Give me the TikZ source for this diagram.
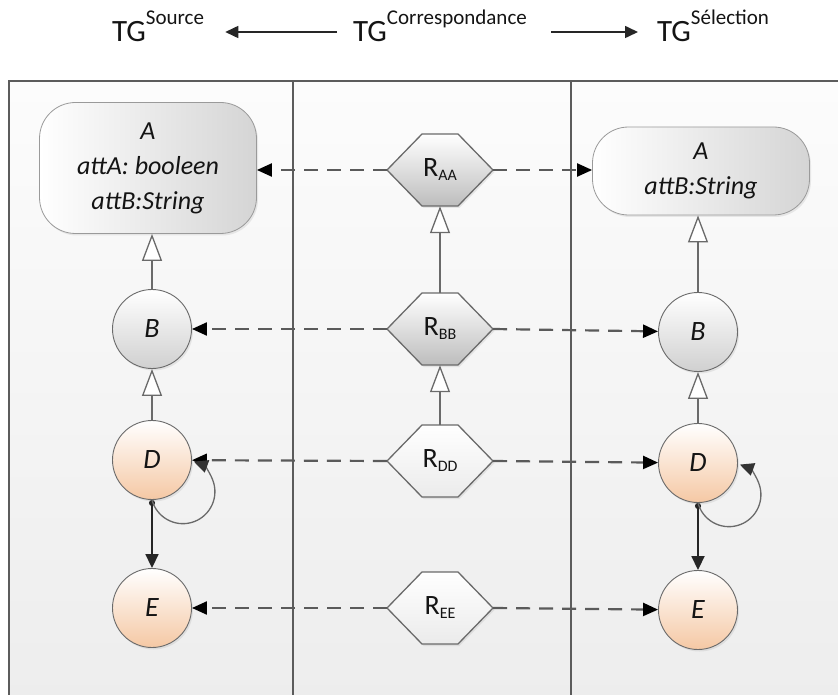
\documentclass[tikz,border=0pt]{standalone}
\usepackage{fontspec}
\setmainfont{Carlito}
\usetikzlibrary{arrows.meta,shadows}
\definecolor{frameC}{HTML}{5C5C5C}
\definecolor{shapeC}{HTML}{6A6A6A}
\definecolor{boxC}{HTML}{9A9A9A}
\definecolor{dashC}{HTML}{5A5A5A}
\definecolor{peach}{HTML}{F5C8A4}
\definecolor{greyB}{HTML}{D0D0D0}
\definecolor{greyH}{HTML}{BDBDBD}
\definecolor{paleH}{HTML}{EBEBEB}
\definecolor{txtC}{HTML}{141414}
\definecolor{bgTop}{HTML}{FCFCFC}
\definecolor{bgBot}{HTML}{EDEDED}
\newcommand\hdrTG[1]{{\fontsize{31}{31}\selectfont TG}\raisebox{17pt}{\fontsize{21}{21}\selectfont #1}}
\newcommand\hexpath[3]{\path[hexfill, bottom color=#3] (#1-53,#2) -- (#1-18,#2-36) -- (#1+18,#2-36) -- (#1+53,#2) -- (#1+18,#2+36) -- (#1-18,#2+36) -- cycle;}
\newcommand\Rlab[1]{R\raisebox{-4pt}{\fontsize{16}{16}\selectfont #1}}
\begin{document}
\begin{tikzpicture}[x=1pt,y=-1pt,
  frameline/.style={draw=frameC, line width=1.4pt},
  hdr/.style={inner sep=0pt, text=txtC},
  harrow/.style={draw=black!85, line width=1.6pt, -{Triangle[length=13pt,width=12pt]}},
  shad/.style={drop shadow={opacity=0.15, shadow xshift=1.5pt, shadow yshift=-2pt}},
  boxA/.style={rectangle, rounded corners=36pt, draw=boxC, line width=0.8pt, left color=white, right color=greyB!90, minimum width=217pt, align=center, text=txtC, font=\fontsize{26}{35}\selectfont\itshape, shad},
  circ/.style={circle, draw=shapeC, line width=0.9pt, minimum size=79pt, inner sep=0pt, text=txtC, font=\fontsize{28}{28}\selectfont\itshape, top color=white, shad},
  circG/.style={circ, bottom color=greyB},
  circP/.style={circ, bottom color=peach},
  hexfill/.style={draw=shapeC, line width=1.3pt, top color=white, shad},
  hexnode/.style={rectangle, minimum width=106pt, minimum height=72pt, inner sep=0pt, text=txtC, font=\fontsize{28}{28}\selectfont},
  gen/.style={draw=shapeC, line width=1.3pt, -{Triangle[length=27pt,width=20pt,fill=white]}},
  dsh/.style={draw=dashC, line width=2.2pt, dash pattern=on 14pt off 9pt, -{Triangle[length=15pt,width=13pt,color=black]}},
  solidarr/.style={draw=black!85, line width=1.8pt, {Circle[length=6pt]}-{Triangle[length=14pt,width=13pt]}},
  loopline/.style={draw=shapeC, line width=1.3pt, -{Triangle[length=14pt,width=13pt,color=black!80]}}
]
\useasboundingbox (0,0) rectangle (838,695);
\clip (0,0) rectangle (838,695);
% columns
\shade[top color=bgTop, bottom color=bgBot] (9,81) rectangle (850,705);
\draw[frameline] (850,81) -- (9,81) -- (9,705);
\draw[frameline] (293,81) -- (293,705);
\draw[frameline] (571,81) -- (571,705);
% header
\node[hdr, anchor=base west] (hsrc) at (112,42) {\hdrTG{Source}};
\node[hdr, anchor=base west] (hcor) at (353,42) {\hdrTG{Correspondance}};
\node[hdr, anchor=base west] (hsel) at (657,42) {\hdrTG{Sélection}};
\coordinate (hy) at (0,32);
\draw[harrow, shorten <=16pt, shorten >=21pt] (hcor.west |- hy) -- (hsrc.east |- hy);
\draw[harrow, shorten <=24pt, shorten >=19pt] (hcor.east |- hy) -- (hsel.west |- hy);
% source column
\node[boxA, minimum height=131pt] (srcA) at (148,168) {A\\attA: booleen\\attB:String};
\node[circG] (srcB) at (152,329) {B};
\node[circP] (srcD) at (152,460) {D};
\node[circP] (srcE) at (152,608) {E};
% selection column
\node[boxA, minimum height=88pt] (selA) at (701,171) {A\\attB:String};
\node[circG] (selB) at (698,332) {B};
\node[circP] (selD) at (698,463) {D};
\node[circP] (selE) at (698,610) {E};
% correspondence column
\hexpath{440}{170}{greyH}
\node[hexnode] (raa) at (440,170) {\Rlab{AA}};
\hexpath{440}{329}{greyH}
\node[hexnode] (rbb) at (440,329) {\Rlab{BB}};
\hexpath{440}{461}{paleH}
\node[hexnode] (rdd) at (440,461) {\Rlab{DD}};
\hexpath{440}{608}{paleH}
\node[hexnode] (ree) at (440,608) {\Rlab{EE}};
% generalisations
\draw[gen] (srcB.north) -- (srcB.north |- srcA.south);
\draw[gen] (srcD.north) -- (srcB.south);
\draw[gen] (rbb.north) -- (raa.south);
\draw[gen] (rdd.north) -- (rbb.south);
\draw[gen] (selB.north) -- (selB.north |- selA.south);
\draw[gen] (selD.north) -- (selB.south);
% correspondences
\draw[dsh] (raa.west) -- (raa.west -| srcA.east);
\draw[dsh] (raa.east) -- (raa.east -| selA.west);
\draw[dsh] (rbb.west) -- (srcB);
\draw[dsh] (rbb.east) -- (selB);
\draw[dsh] (rdd.west) -- (srcD);
\draw[dsh] (rdd.east) -- (selD);
\draw[dsh] (ree.west) -- (srcE);
\draw[dsh] (ree.east) -- (selE);
% D -> E and self loops
\draw[solidarr] (srcD.south) -- (srcE.north);
\draw[solidarr] (selD.south) -- (selE.north);
\draw[loopline] (srcD.south) arc[start angle=165, end angle=-70, radius=32];
\draw[loopline] (selD.south) arc[start angle=165, end angle=-70, radius=32];
\end{tikzpicture}
\end{document}
